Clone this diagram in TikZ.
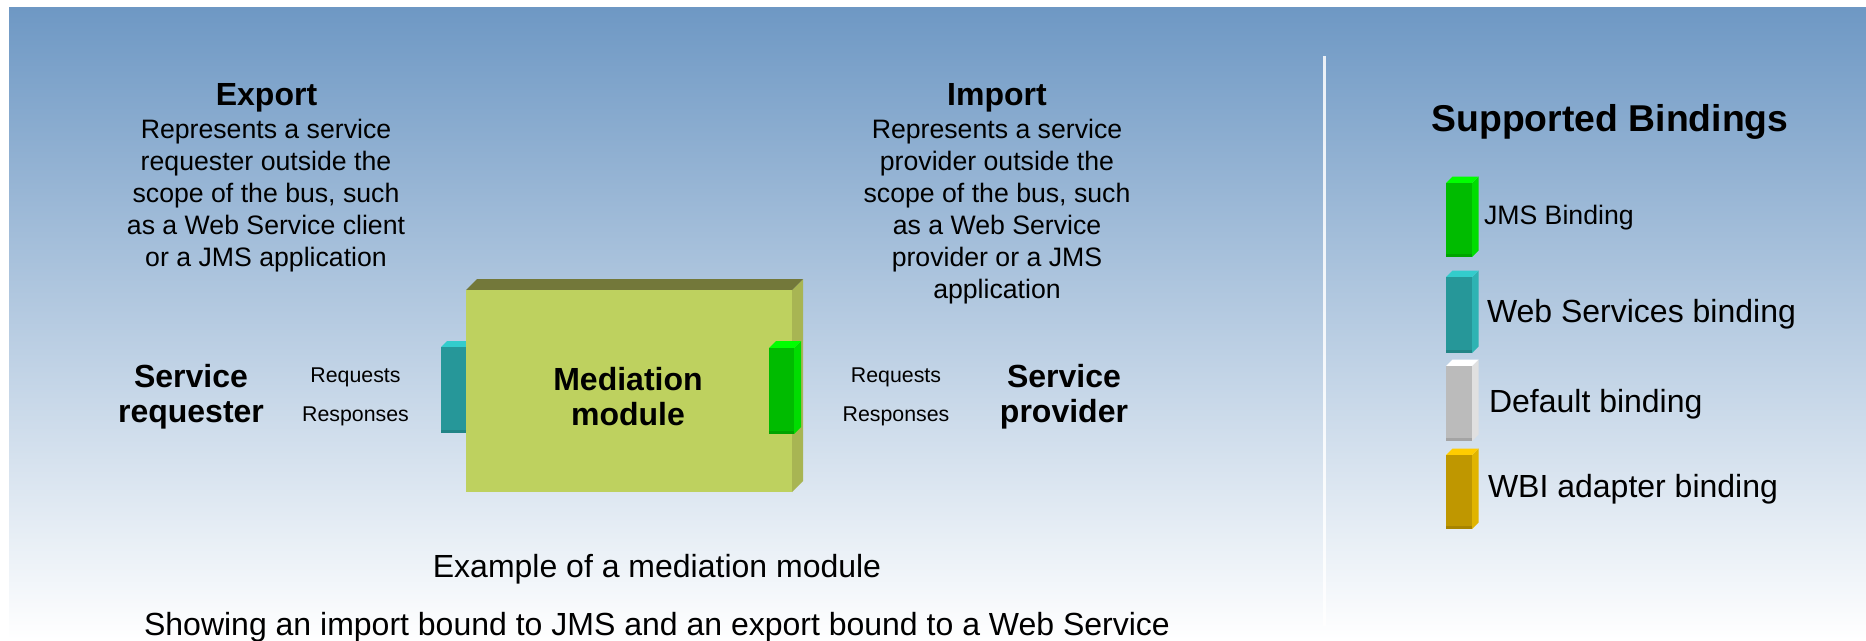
\documentclass[tikz,border=0pt]{standalone}
\usepackage{fontspec}
\setmainfont{Liberation Sans}
\definecolor{bgtop}{HTML}{6E98C4}
\definecolor{modfront}{HTML}{BED15F}
\definecolor{modtop}{HTML}{73783A}
\definecolor{modside}{HTML}{A8B553}
\definecolor{tealfront}{HTML}{269799}
\definecolor{tealtop}{HTML}{33CCCC}
\definecolor{tealside}{HTML}{2EB3B3}
\definecolor{greenfront}{HTML}{00BB00}
\definecolor{greentop}{HTML}{00FF00}
\definecolor{greenside}{HTML}{00DD00}
\definecolor{grayfront}{HTML}{BBBBBB}
\definecolor{grayside}{HTML}{E0E0E0}
\definecolor{goldfront}{HTML}{BF9700}
\definecolor{goldtop}{HTML}{FFCC00}
\definecolor{goldside}{HTML}{E0B400}
\newcommand{\fsz}[1]{\fontsize{#1}{#1}\selectfont}
\tikzset{
 x=0.75pt,y=-0.75pt,
 txt/.style={inner sep=0pt,outer sep=0pt,align=center,text=black},
 head/.style={txt,anchor=base,font=\fsz{24}\bfseries},
 body/.style={txt,font=\fontsize{20}{24}\selectfont},
 big/.style={txt,font=\fontsize{24}{26.25}\selectfont\bfseries},
 small/.style={txt,anchor=base,font=\fsz{16}},
 caption/.style={txt,anchor=base,font=\fsz{24}},
 legend/.style={txt,anchor=base west,font=\fsz{24}},
 edge shade/.style={fill=black,opacity=.12},
}
% #1 name, #2 x left, #3 y top of front, #4 width, #5 height, #6 dx, #7 front, #8 top, #9 side
\newcommand{\slab}[9]{%
 \fill[#9] (#2+#4,#3) -- ++(#6,-#6) -- ++(0,#5) -- ++(-#6,#6) -- cycle;
 \fill[#8] (#2,#3) -- ++(#6,-#6) -- ++(#4,0) -- ++(-#6,#6) -- cycle;
 \node[fill=#7,draw=none,minimum width=#4*0.75pt,minimum height=#5*0.75pt,inner sep=0pt,outer sep=0pt,anchor=north west] (#1) at (#2,#3) {};
}
\newcommand{\bevel}[1]{\fill[edge shade] (#1.south west) rectangle ([yshift=2.25pt]#1.south east);}
\begin{document}
\begin{tikzpicture}
\useasboundingbox (0,0) rectangle (1866,640);
\fill[white] (0,0) rectangle (1866,640);
\shade[top color=bgtop,bottom color=white] (9,7) rectangle (1866,640);
\fill[white,opacity=.85] (1323,56) rectangle (1325.5,626);
% module
\slab{export}{441}{347}{25}{86}{6}{tealfront}{tealtop}{tealtop}
\bevel{export}
\slab{module}{466}{290}{326}{202}{11}{modfront}{modtop}{modside}
\slab{import}{769}{348}{25}{86}{7}{greenfront}{greentop}{greenside}
\bevel{import}
\node[big] (mm) at (628,396.5) {Mediation\\module};
% texts
\node[head] (exph) at (266.5,105) {Export};
\node[body] (expb) at (266,195.3) {Represents a service\\requester outside the\\scope of the bus, such\\as a Web Service client\\or a JMS application};
\node[head] (imph) at (997,105) {Import};
\node[body] (impb) at (997,211.3) {Represents a service\\provider outside the\\scope of the bus, such\\as a Web Service\\provider or a JMS\\application};
\node[big] (req) at (191,396.3) {Service\\requester};
\node[big] (prov) at (1064,396.3) {Service\\provider};
\node[small] (r1) at (355.5,382) {Requests};
\node[small] (r2) at (355.5,421) {Responses};
\node[small] (p1) at (896,382) {Requests};
\node[small] (p2) at (896,421) {Responses};
\node[caption] (c1) at (657,577) {Example of a mediation module};
\node[caption] (c2) at (657,635) {Showing an import bound to JMS and an export bound to a Web Service};
% legend
\node[txt,anchor=base,font=\fsz{28}\bfseries] (sb) at (1610,131) {Supported Bindings};
\slab{l1}{1446}{183}{26}{74}{6.5}{greenfront}{greentop}{greenside}
\bevel{l1}
\slab{l2}{1446}{277}{26}{76}{6.5}{tealfront}{tealtop}{tealside}
\bevel{l2}
\slab{l3}{1446}{366}{26}{75}{6.5}{grayfront}{white}{grayside}
\bevel{l3}
\slab{l4}{1446}{455}{26}{74}{6.5}{goldfront}{goldtop}{goldside}
\bevel{l4}
\node[legend,font=\fsz{20}] (t1) at (1484,224) {JMS Binding};
\node[legend] (t2) at (1487,322) {Web Services binding};
\node[legend] (t3) at (1489,412) {Default binding};
\node[legend] (t4) at (1488,497) {WBI adapter binding};
\end{tikzpicture}
\end{document}
